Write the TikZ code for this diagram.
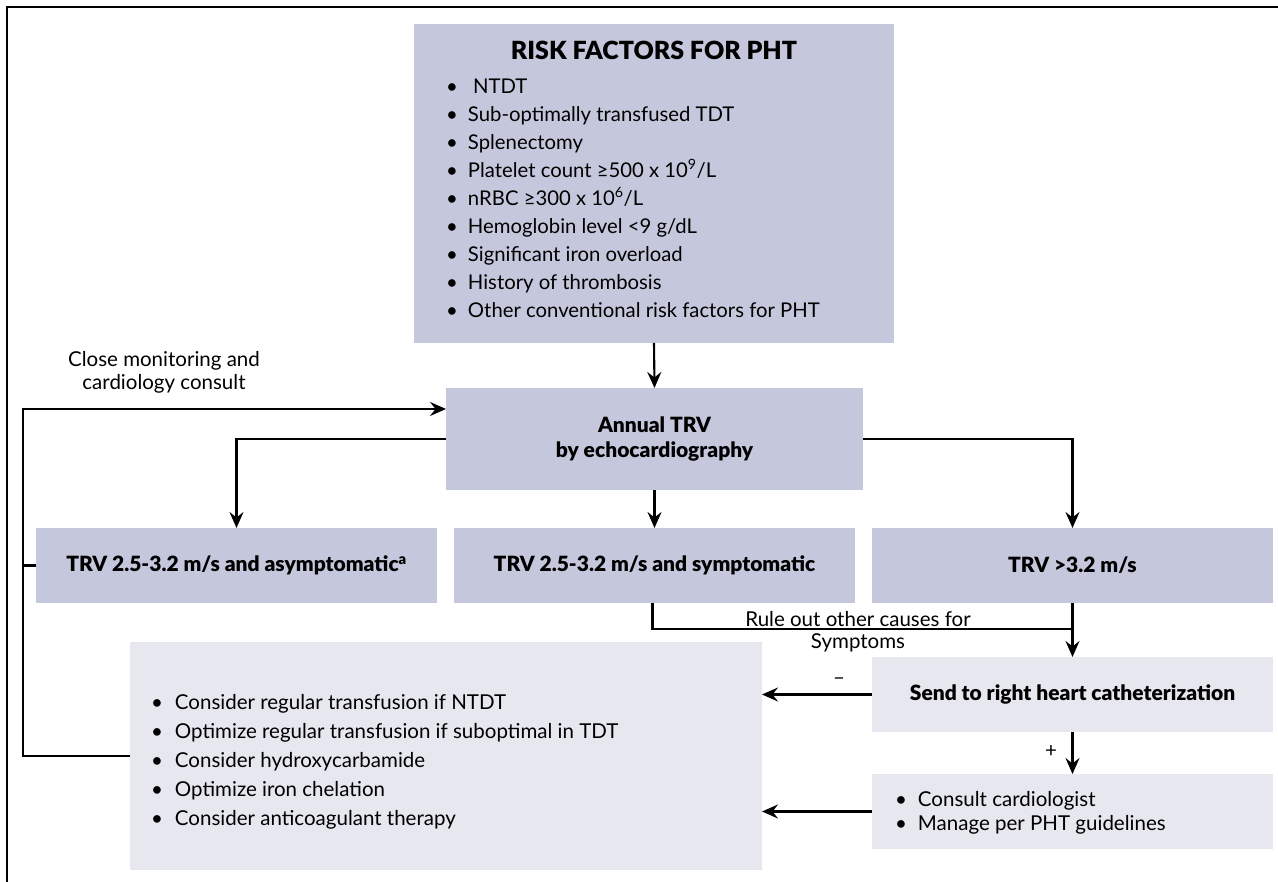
\documentclass[tikz,border=0pt]{standalone}
\usepackage{fontspec}
\setmainfont{Lato}
\newfontface\heavy{Lato Black}
\usetikzlibrary{arrows.meta}
\definecolor{boxdark}{RGB}{197,200,220}
\definecolor{boxlight}{RGB}{230,231,239}
\newcommand{\bitem}[2][22pt]{\makebox[#1][l]{\textbullet}#2}
\begin{document}
\begin{tikzpicture}[x=1pt,y=-1pt,
  box/.style={draw=none,inner sep=0pt,outer sep=0pt,align=center},
  dbox/.style={box,fill=boxdark,font=\heavy\fontsize{21}{25}\selectfont},
  lbox/.style={box,fill=boxlight,font=\heavy\fontsize{21}{25}\selectfont},
  listtxt/.style={inner sep=0pt,outer sep=0pt,align=left,anchor=north west},
  conn/.style={line width=2.1pt},
  arr/.style={conn,-{Stealth[length=16pt,width=14pt,inset=5.5pt]}},
  lbl/.style={inner sep=0pt,outer sep=0pt,font=\fontsize{20.5}{23}\selectfont,align=center},
  frame/.style={line width=2.5pt}
]
\useasboundingbox (0,0) rectangle (1278,882);
\fill[white] (0,0) rectangle (1278,882);
% frame (partial)
\draw[frame] (7,882) -- (7,7) -- (1278,7);

% boxes
\node[dbox,minimum width=480pt,minimum height=319pt] (risk) at (654,183.5) {};
\node[inner sep=0pt,font=\heavy\fontsize{25}{28}\selectfont] (risktitle) at (654,50) {RISK FACTORS FOR PHT};
\node[listtxt,font=\fontsize{20.3}{28}\selectfont] (risklist) at (446,78.5) {%
\bitem{\hspace{5pt}NTDT}\\
\bitem{Sub-optimally transfused TDT}\\
\bitem{Splenectomy}\\
\bitem{Platelet count ≥500 x 10\textsuperscript{9}/L}\\
\bitem{nRBC ≥300 x 10\textsuperscript{6}/L}\\
\bitem{Hemoglobin level <9 g/dL}\\
\bitem{Significant iron overload}\\
\bitem{History of thrombosis}\\
\bitem{Other conventional risk factors for PHT}};

\node[dbox,minimum width=417pt,minimum height=102pt] (annual) at (654.5,439) {Annual TRV\\by echocardiography};
\node[dbox,minimum width=401pt,minimum height=75pt] (asym) at (236.5,565.5) {TRV 2.5-3.2 m/s and asymptomatic\textsuperscript{a}};
\node[dbox,minimum width=401pt,minimum height=75pt] (symp) at (654.5,565.5) {TRV 2.5-3.2 m/s and symptomatic};
\node[dbox,minimum width=401pt,minimum height=75pt] (high) at (1072.5,565.5) {TRV >3.2 m/s};

\node[lbox,minimum width=632pt,minimum height=228pt] (treat) at (446,756) {};
\node[listtxt,font=\fontsize{20.5}{29}\selectfont] (treatlist) at (151,694) {%
\bitem[24pt]{Consider regular transfusion if NTDT}\\
\bitem[24pt]{Optimize regular transfusion if suboptimal in TDT}\\
\bitem[24pt]{Consider hydroxycarbamide}\\
\bitem[24pt]{Optimize iron chelation}\\
\bitem[24pt]{Consider anticoagulant therapy}};

\node[lbox,minimum width=401pt,minimum height=75pt] (rhc) at (1072.5,694.5) {Send to right heart catheterization};
\node[lbox,minimum width=401pt,minimum height=75pt] (consult) at (1072.5,811.5) {};
\node[listtxt,font=\fontsize{20.5}{24}\selectfont] (consultlist) at (895,791.5) {%
\bitem[23pt]{Consult cardiologist}\\
\bitem[23pt]{Manage per PHT guidelines}};

% connectors
\draw[arr] (risk.south) -- (annual.north);
\draw[arr] (annual.west) -| (asym.north);
\draw[arr] (annual.south) -- (symp.north);
\draw[arr] (annual.east) -| (high.north);
\coordinate (join) at (1072.5,629);
\draw[conn] ([xshift=-2pt]symp.south) |- (join);
\draw[arr] (high.south) -- (rhc.north);
\draw[arr] (rhc.west) -- (rhc.west -| treat.east);
\draw[arr] (rhc.south) -- (consult.north);
\draw[arr] (consult.west) -- (consult.west -| treat.east);
\coordinate (fb1) at (23,756);
\coordinate (fb2) at (23,409);
\draw[arr] (treat.west) -- (fb1) -- (fb2) -- (fb2 -| annual.west);
\draw[conn] (fb1 |- asym.west) -- (asym.west);

% labels
\node[lbl] (closelbl) at (164,372.5) {Close monitoring and\\cardiology consult};
\node[lbl] (rulelbl1) at (858,619) {Rule out other causes for};
\node[lbl] (rulelbl2) at (858,643) {Symptoms};
\node[lbl] (minuslbl) at (839,681) {–};
\node[lbl] (pluslbl) at (1051,752) {+};
\end{tikzpicture}
\end{document}
